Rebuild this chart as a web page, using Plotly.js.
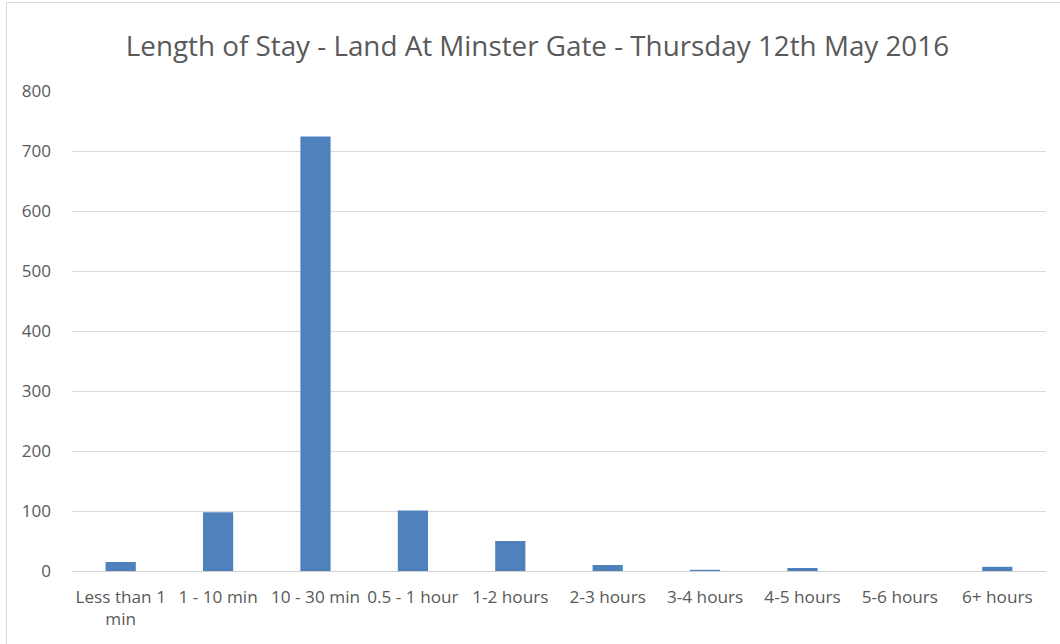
<!DOCTYPE html>
<html>
<head>
<meta charset="utf-8">
<script src="https://cdn.plot.ly/plotly-3.0.1.min.js"></script>
<style>
  html, body { margin: 0; padding: 0; background: #fff; }
  #wrap { position: relative; width: 1060px; height: 644px; overflow: hidden; }
  #chart { width: 1060px; height: 644px; }
  #frame { position: absolute; left: 6px; top: 2px; width: 1100px; height: 700px;
           border: 1px solid #d9d9d9; pointer-events: none; }
</style>
</head>
<body>
<div id="wrap">
  <div id="chart"></div>
  <div id="frame"></div>
</div>
<script>
const categories = ["Less than 1<br>min", "1 - 10 min", "10 - 30 min", "0.5 - 1 hour", "1-2 hours",
                    "2-3 hours", "3-4 hours", "4-5 hours", "5-6 hours", "6+ hours"];
const counts = [15, 98, 724, 101, 50, 10, 2, 5, 0, 7];
const yTicks = [0, 100, 200, 300, 400, 500, 600, 700, 800];
const titleText = "Length of Stay - Land At Minster Gate - Thursday 12th May 2016";

const textColor = "#595959";
const trace = {
  type: "bar",
  x: categories,
  y: counts,
  marker: { color: "#4f81bd" },
  hoverinfo: "x+y"
};

const layout = {
  width: 1060,
  height: 644,
  margin: { l: 72, r: 14, t: 91, b: 73 },
  paper_bgcolor: "#ffffff",
  plot_bgcolor: "#ffffff",
  bargap: 0.69,
  showlegend: false,
  font: { family: "Open Sans, Noto Sans, sans-serif", color: textColor, size: 16 },
  title: {
    text: titleText,
    font: { family: "Open Sans, Noto Sans, sans-serif", size: 27.8, color: textColor },
    x: 0.507, xanchor: "center",
    xref: "container",
    yref: "container", y: 1 - 46 / 644, yanchor: "middle"
  },
  xaxis: {
    type: "category",
    showgrid: false,
    showline: true,
    linecolor: "#d0d0d0",
    linewidth: 1,
    ticks: "",
    tickfont: { size: 17.2, color: textColor },
    ticklabelstandoff: 10,
    zeroline: false
  },
  yaxis: {
    range: [0, 800],
    tickvals: yTicks,
    ticktext: yTicks.map(String),
    showgrid: true,
    gridcolor: "#d9d9d9",
    gridwidth: 1,
    zeroline: false,
    showline: false,
    ticks: "",
    tickfont: { size: 17, color: textColor },
    ticklabelstandoff: 20
  }
};

Plotly.newPlot("chart", [trace], layout, { displayModeBar: false, staticPlot: true });
</script>
</body>
</html>
